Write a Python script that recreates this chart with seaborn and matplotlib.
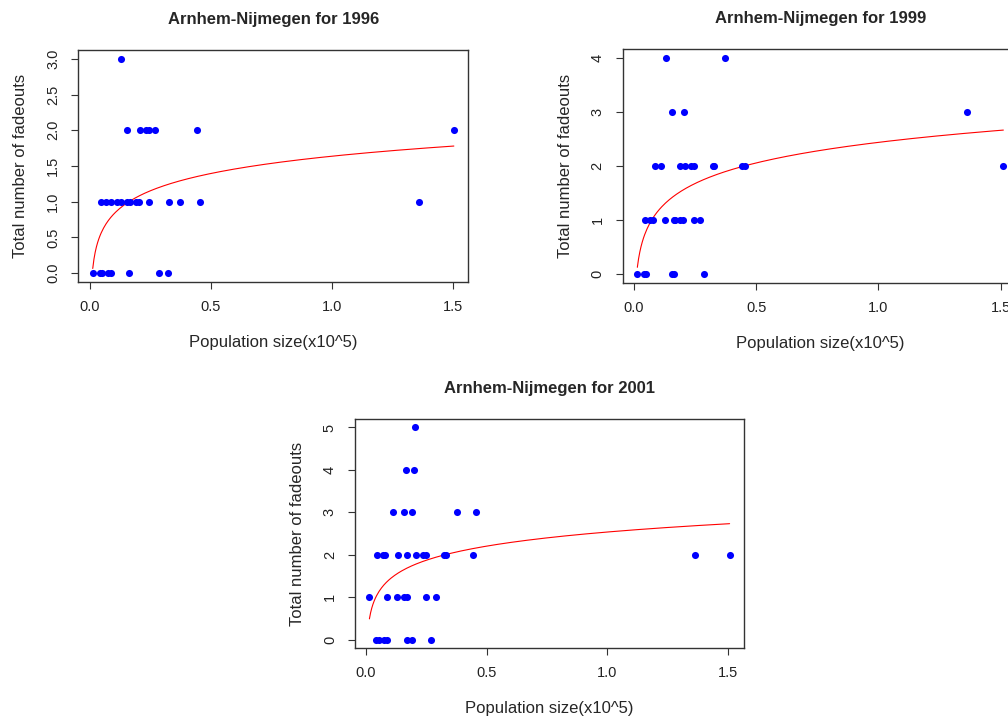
import numpy as np
import pandas as pd
import matplotlib
matplotlib.use("Agg")
import matplotlib.pyplot as plt
import seaborn as sns

# population size (x10^5) and total fadeouts per municipality
pop_1996 = [0.128,
            0.154, 0.205, 0.231, 0.244, 0.268, 0.441, 1.505,
            0.044, 0.066, 0.085, 0.110, 0.127, 0.154, 0.165, 0.189, 0.202,
            0.245, 0.325, 0.372, 0.453, 1.359,
            0.011, 0.041, 0.048, 0.073, 0.085, 0.162, 0.285, 0.322]
fade_1996 = [3,
             2, 2, 2, 2, 2, 2, 2,
             1, 1, 1, 1, 1, 1, 1, 1, 1,
             1, 1, 1, 1, 1,
             0, 0, 0, 0, 0, 0, 0, 0]

pop_1999 = [0.133, 0.375,
            0.156, 0.205, 1.363,
            0.088, 0.113, 0.188, 0.209, 0.235, 0.246, 0.323, 0.329, 0.444, 0.453, 1.510,
            0.047, 0.067, 0.078, 0.128, 0.164, 0.169, 0.190, 0.201, 0.247, 0.269,
            0.015, 0.043, 0.051, 0.156, 0.164, 0.288]
fade_1999 = [4, 4,
             3, 3, 3,
             2, 2, 2, 2, 2, 2, 2, 2, 2, 2, 2,
             1, 1, 1, 1, 1, 1, 1, 1, 1, 1,
             0, 0, 0, 0, 0, 0]

pop_2001 = [0.205,
            0.165, 0.200,
            0.113, 0.156, 0.189, 0.376, 0.455,
            0.047, 0.069, 0.077, 0.131, 0.169, 0.207, 0.236, 0.248, 0.325, 0.330, 0.444, 1.365, 1.508,
            0.014, 0.088, 0.127, 0.159, 0.169, 0.249, 0.289,
            0.041, 0.053, 0.073, 0.088, 0.169, 0.191, 0.270]
fade_2001 = [5,
             4, 4,
             3, 3, 3, 3, 3,
             2, 2, 2, 2, 2, 2, 2, 2, 2, 2, 2, 2, 2,
             1, 1, 1, 1, 1, 1, 1,
             0, 0, 0, 0, 0, 0, 0]

# fitted log curve, fade = a + b * ln(pop), coefficients
fit_1996 = (1.637, 0.3485)
fit_1999 = (2.44, 0.55)
fit_2001 = (2.538, 0.479)

x_ticks = [0.0, 0.5, 1.0, 1.5]
y_ticks_1996 = [0.0, 0.5, 1.0, 1.5, 2.0, 2.5, 3.0]
y_ticks_1999 = [0, 1, 2, 3, 4]
y_ticks_2001 = [0, 1, 2, 3, 4, 5]

sns.set_theme(style="white")
plt.rcParams["font.family"] = ["Liberation Sans", "DejaVu Sans"]

EDGE = "#333333"


def r_limits(values):
    lo, hi = min(values), max(values)
    pad = 0.04 * (hi - lo)
    return lo - pad, hi + pad


def draw_panel(ax, pop, fade, coef, year, y_ticks, y_fmt):
    df = pd.DataFrame({"pop": pop, "fade": fade})

    a, b = coef
    grid = np.linspace(df["pop"].min(), df["pop"].max(), 300)
    fit = pd.DataFrame({"pop": grid, "fade": a + b * np.log(grid)})

    sns.scatterplot(data=df, x="pop", y="fade", ax=ax, color="#0000ff",
                    s=26, linewidth=0, zorder=3)
    sns.lineplot(data=fit, x="pop", y="fade", ax=ax, color="#ff0000",
                 linewidth=0.8, zorder=2)

    ax.set_xlim(r_limits(pop))
    ax.set_ylim(r_limits(fade))
    ax.set_xticks(x_ticks)
    ax.set_xticklabels([f"{t:.1f}" for t in x_ticks])
    ax.set_yticks(y_ticks)
    ax.set_yticklabels([y_fmt.format(t) for t in y_ticks],
                       rotation=90, va="center")

    ax.tick_params(direction="out", length=5, width=0.8, color=EDGE,
                   labelsize=10.5, labelcolor="#222222", pad=8,
                   bottom=True, left=True)
    for sp in ax.spines.values():
        sp.set_visible(True)
        sp.set_color(EDGE)
        sp.set_linewidth(1.0)

    ax.set_title(f"Arnhem-Nijmegen for {year}", fontsize=12,
                 fontweight="bold", pad=19)
    ax.set_xlabel("Population size(x10^5)", fontsize=12, labelpad=15)
    ax.set_ylabel("Total number of fadeouts", fontsize=12, labelpad=13)
    ax.grid(False)


W, H = 1008, 720
fig = plt.figure(figsize=(W / 100, H / 100), dpi=100)


def add_axes(left, top, right, bottom):
    return fig.add_axes([left / W, 1 - bottom / H, (right - left) / W, (bottom - top) / H])


ax1 = add_axes(78.3, 50.3, 468.3, 281.7)
ax2 = add_axes(622.7, 49.3, 1018.0, 283.0)
ax3 = add_axes(355.0, 419.0, 744.0, 648.3)

draw_panel(ax1, pop_1996, fade_1996, fit_1996, 1996, y_ticks_1996, "{:.1f}")
draw_panel(ax2, pop_1999, fade_1999, fit_1999, 1999, y_ticks_1999, "{:d}")
draw_panel(ax3, pop_2001, fade_2001, fit_2001, 2001, y_ticks_2001, "{:d}")

fig.savefig("out.png", dpi=100)
plt.close(fig)
